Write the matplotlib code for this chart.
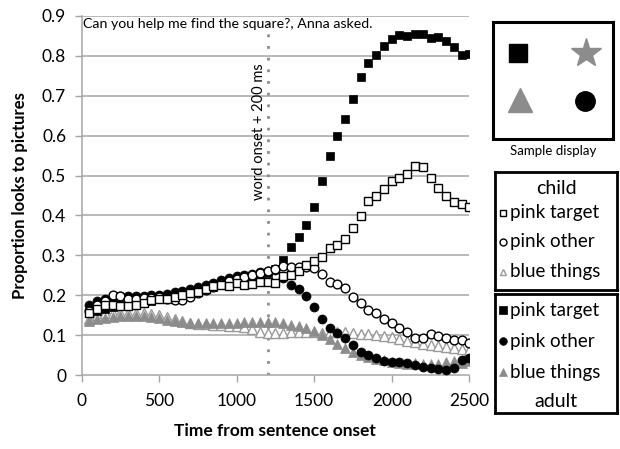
import matplotlib
matplotlib.use("Agg")
import matplotlib.pyplot as plt

plt.rcParams['font.family'] = ['Lato', 'DejaVu Sans']

times = [50, 100, 150, 200, 250, 300, 350, 400, 450, 500,
         550, 600, 650, 700, 750, 800, 850, 900, 950, 1000,
         1050, 1100, 1150, 1200, 1250, 1300, 1350, 1400, 1450, 1500,
         1550, 1600, 1650, 1700, 1750, 1800, 1850, 1900, 1950, 2000,
         2050, 2100, 2150, 2200, 2250, 2300, 2350, 2400, 2450, 2500]

child_target = [0.155, 0.165, 0.175, 0.175, 0.172, 0.172, 0.175, 0.18, 0.188, 0.19,
                0.19, 0.195, 0.2, 0.205, 0.209, 0.215, 0.224, 0.226, 0.223, 0.23,
                0.226, 0.227, 0.234, 0.234, 0.231, 0.248, 0.251, 0.261, 0.276, 0.286,
                0.297, 0.319, 0.327, 0.34, 0.369, 0.399, 0.436, 0.449, 0.466, 0.487,
                0.495, 0.505, 0.524, 0.522, 0.495, 0.469, 0.449, 0.434, 0.428, 0.42]
child_other = [0.16, 0.175, 0.185, 0.2, 0.197, 0.19, 0.19, 0.192, 0.193, 0.195,
               0.19, 0.187, 0.188, 0.196, 0.205, 0.212, 0.22, 0.228, 0.235, 0.24,
               0.245, 0.25, 0.255, 0.26, 0.265, 0.274, 0.272, 0.272, 0.272, 0.269,
               0.252, 0.232, 0.227, 0.219, 0.196, 0.18, 0.163, 0.155, 0.14, 0.13,
               0.119, 0.107, 0.094, 0.092, 0.102, 0.099, 0.092, 0.088, 0.088, 0.079]
child_blue = [0.14, 0.15, 0.155, 0.155, 0.155, 0.155, 0.155, 0.155, 0.152, 0.15,
              0.145, 0.14, 0.135, 0.13, 0.128, 0.127, 0.126, 0.125, 0.124, 0.122,
              0.12, 0.115, 0.108, 0.105, 0.106, 0.106, 0.108, 0.108, 0.108, 0.107,
              0.106, 0.107, 0.108, 0.107, 0.106, 0.104, 0.102, 0.1, 0.098, 0.095,
              0.09, 0.085, 0.082, 0.078, 0.075, 0.072, 0.07, 0.068, 0.065, 0.062]
adult_target = [0.155, 0.16, 0.165, 0.17, 0.175, 0.178, 0.18, 0.183, 0.186, 0.19,
                0.193, 0.196, 0.2, 0.205, 0.21, 0.215, 0.22, 0.225, 0.23, 0.235,
                0.24, 0.245, 0.25, 0.255, 0.265, 0.288, 0.32, 0.345, 0.375, 0.42,
                0.487, 0.549, 0.599, 0.641, 0.693, 0.746, 0.783, 0.802, 0.825, 0.842,
                0.852, 0.85, 0.856, 0.856, 0.844, 0.848, 0.838, 0.823, 0.802, 0.804]
adult_other = [0.175, 0.185, 0.19, 0.195, 0.197, 0.197, 0.198, 0.199, 0.2, 0.2,
               0.203, 0.207, 0.21, 0.215, 0.22, 0.225, 0.23, 0.237, 0.243, 0.247,
               0.25, 0.254, 0.257, 0.26, 0.263, 0.244, 0.226, 0.215, 0.199, 0.171,
               0.14, 0.117, 0.106, 0.092, 0.075, 0.058, 0.05, 0.042, 0.035, 0.032,
               0.033, 0.031, 0.025, 0.021, 0.018, 0.014, 0.013, 0.017, 0.038, 0.042]
adult_blue = [0.135, 0.14, 0.142, 0.145, 0.147, 0.148, 0.148, 0.147, 0.145, 0.142,
              0.138, 0.135, 0.133, 0.13, 0.13, 0.13, 0.13, 0.13, 0.13, 0.13,
              0.132, 0.132, 0.132, 0.134, 0.134, 0.13, 0.126, 0.122, 0.117, 0.11,
              0.1, 0.089, 0.077, 0.067, 0.058, 0.05, 0.045, 0.04, 0.037, 0.033,
              0.03, 0.028, 0.03, 0.028, 0.028, 0.027, 0.033, 0.035, 0.03, 0.035]

xticks = [0, 500, 1000, 1500, 2000, 2500]
yticks = [0, 0.1, 0.2, 0.3, 0.4, 0.5, 0.6, 0.7, 0.8, 0.9]
ytick_labels = ['0', '0.1', '0.2', '0.3', '0.4', '0.5', '0.6', '0.7', '0.8', '0.9']
word_onset_ms = 1200

W, H = 620, 449
fig = plt.figure(figsize=(W / 100, H / 100), dpi=100)

def frect(x0, y0, x1, y1):
    return [x0 / W, 1 - y1 / H, (x1 - x0) / W, (y1 - y0) / H]

ax = fig.add_axes(frect(81.5, 16, 469.3, 375))
GRID = '#a6a6a6'
GRAY = '#8c8c8c'

for y in yticks[1:]:
    ax.axhline(y, color=GRID, lw=1.1, zorder=0)

ax.plot(times, child_blue, linestyle='none', marker='^', ms=7, mfc='white',
        mec='#9a9a9a', mew=1.0, zorder=2)
ax.plot(times, adult_blue, linestyle='none', marker='^', ms=7, mfc=GRAY,
        mec=GRAY, mew=0.5, zorder=3)
ax.plot(times, adult_other, linestyle='none', marker='o', ms=6.5, mfc='black',
        mec='black', mew=0.5, zorder=4)
ax.plot(times, adult_target, linestyle='none', marker='s', ms=5.6, mfc='black',
        mec='black', mew=0.5, zorder=5)
ax.plot(times, child_other, linestyle='none', marker='o', ms=6.3, mfc='white',
        mec='black', mew=1.0, zorder=6)
ax.plot(times, child_target, linestyle='none', marker='s', ms=5.8, mfc='white',
        mec='black', mew=1.0, zorder=7)

ax.axvline(word_onset_ms, color='#8c8c8c', lw=2, linestyle=(0, (1, 3.2)), zorder=1)
ax.text(word_onset_ms - 55, 0.61, 'word onset + 200 ms', rotation=90,
        ha='center', va='center', fontsize=10.5, zorder=8)
ax.text(10, 0.88, 'Can you help me find the square?, Anna asked.',
        ha='left', va='center', fontsize=10.2, zorder=8)

ax.set_xlim(0, 2500)
ax.set_ylim(0, 0.9)
ax.set_xticks(xticks)
ax.set_xticklabels([str(x) for x in xticks])
ax.set_yticks(yticks)
ax.set_yticklabels(ytick_labels)
ax.tick_params(axis='both', colors=GRID, labelcolor='black', labelsize=12.5,
               length=5, width=1)
ax.tick_params(axis='x', pad=8)
ax.tick_params(axis='y', pad=6)
for s in ['top', 'right']:
    ax.spines[s].set_visible(False)
for s in ['left', 'bottom']:
    ax.spines[s].set_color(GRID)
    ax.spines[s].set_linewidth(1.1)
ax.set_ylabel('Proportion looks to pictures', fontsize=12, fontweight='bold',
              labelpad=10)
ax.set_xlabel('Time from sentence onset', fontsize=12.5, fontweight='bold',
              labelpad=10)

def box(x0, y0, x1, y1, lw=2):
    b = fig.add_axes(frect(x0, y0, x1, y1))
    b.set_xlim(x0, x1)
    b.set_ylim(y1, y0)
    b.set_xticks([])
    b.set_yticks([])
    for s in b.spines.values():
        s.set_linewidth(lw)
        s.set_color('black')
    return b

# Sample display
sd = box(493, 22, 613, 139, lw=2.2)
sd.plot([518], [53], marker='s', ms=13.5, color='black', linestyle='none')
sd.plot([586], [53], marker='*', ms=22, color=GRAY, linestyle='none')
sd.plot([520], [100], marker='^', ms=17, color=GRAY, linestyle='none')
sd.plot([585], [101], marker='o', ms=14, color='black', linestyle='none')
fig.text(553 / W, 1 - 151 / H, 'Sample display', ha='center', va='center', fontsize=9.5)

# child legend
cb = box(495, 172, 617, 290)
cb.text(556, 189, 'child', ha='center', va='center', fontsize=14)
rows_c = [(213, 's', 'white', 'black', 'pink target'),
          (242, 'o', 'white', 'black', 'pink other'),
          (272, '^', 'white', '#9a9a9a', 'blue things')]
for y, m, fc, ec, lab in rows_c:
    cb.plot([503], [y], marker=m, ms=5, mfc=fc, mec=ec, mew=1.0, linestyle='none')
    cb.text(510, y, lab, ha='left', va='center', fontsize=13.5)

ab = box(495, 294, 617, 413)
rows_a = [(310, 's', 'black', 'black', 'pink target'),
          (341, 'o', 'black', 'black', 'pink other'),
          (372, '^', GRAY, GRAY, 'blue things')]
for y, m, fc, ec, lab in rows_a:
    ab.plot([503], [y], marker=m, ms=5.5, mfc=fc, mec=ec, mew=0.5, linestyle='none')
    ab.text(510, y, lab, ha='left', va='center', fontsize=13.5)
ab.text(556, 401, 'adult', ha='center', va='center', fontsize=14)

fig.savefig('out.png', dpi=100)
